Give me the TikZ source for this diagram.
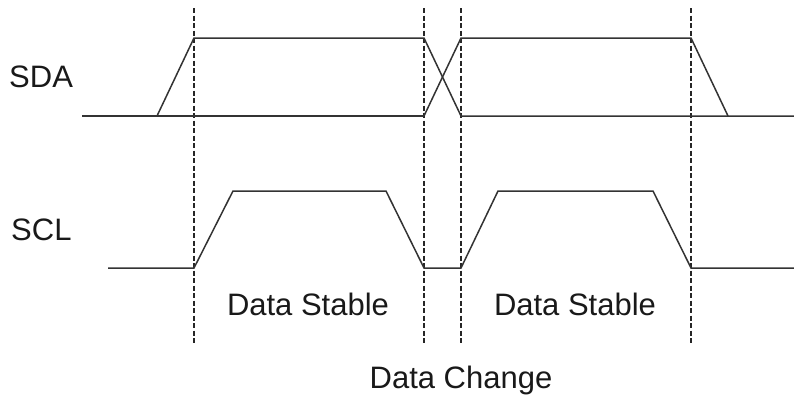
\documentclass[tikz,border=0pt]{standalone}
\usepackage{fontspec}
\setmainfont{Liberation Sans}
\begin{document}
\begin{tikzpicture}[x=1pt,y=-1pt,
  sig/.style={draw=black!80,line width=1.5pt,line join=miter},
  guide/.style={draw=black!85,line width=1.3pt,dash pattern=on 5pt off 2.5pt},
  lbl/.style={anchor=base,inner sep=0pt,text=black!90,font=\fontsize{31}{37}\selectfont}]
\useasboundingbox (0,0) rectangle (794,399);
% guide lines
\foreach \n/\x in {g1/194,g2/424,g3/461,g4/691}{
  \coordinate (\n t) at (\x,8);
  \coordinate (\n b) at (\x,343);
  \draw[guide] (\n t) -- (\n b);
}
% SDA points
\coordinate (a0) at (82,116);
\coordinate (a1) at (157,116);
\coordinate (a2) at (194,38);
\coordinate (a3) at (424,38);
\coordinate (a4) at (461,116);
\coordinate (a5) at (424,116);
\coordinate (a6) at (461,38);
\coordinate (a7) at (691,38);
\coordinate (a8) at (728,116);
\coordinate (a9) at (794,116);
\draw[sig] (a0) -- (a5);
\draw[sig] (a1) -- (a2) -- (a3) -- (a4) -- (a9);
\draw[sig] (a5) -- (a6) -- (a7) -- (a8);
% SCL points
\coordinate (c0) at (108,268);
\coordinate (c1) at (194,268);
\coordinate (c2) at (233,191);
\coordinate (c3) at (386,191);
\coordinate (c4) at (424,268);
\coordinate (c5) at (461,268);
\coordinate (c6) at (498,191);
\coordinate (c7) at (653,191);
\coordinate (c8) at (691,268);
\coordinate (c9) at (794,268);
\draw[sig] (c0) -- (c1) -- (c2) -- (c3) -- (c4) -- (c5) -- (c6) -- (c7) -- (c8) -- (c9);
% labels
\node[lbl,anchor=base west] (sda) at (9,87) {SDA};
\node[lbl,anchor=base west] (scl) at (11,240) {SCL};
\node[lbl] (ds1) at (308,315) {Data Stable};
\node[lbl] (ds2) at (575,315) {Data Stable};
\node[lbl] (dc) at (461,388) {Data Change};
\end{tikzpicture}
\end{document}
